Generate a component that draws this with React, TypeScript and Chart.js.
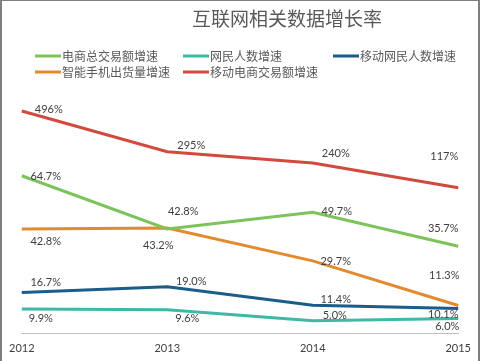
import React, { useEffect, useRef } from "react";
import { Chart, registerables } from "chart.js";

Chart.register(...registerables);

const TITLE = "互联网相关数据增长率";
const YEARS = ["2012", "2013", "2014", "2015"];
const SERIES_NAMES = ["电商总交易额增速", "网民人数增速", "移动网民人数增速", "智能手机出货量增速", "移动电商交易额增速"];
const ECOMMERCE = [64.7, 42.8, 49.7, 35.7];
const NETIZENS = [9.9, 9.6, 5.0, 6.0];
const MOBILE_NETIZENS = [16.7, 19.0, 11.4, 10.1];
const SMARTPHONE = [42.8, 43.2, 29.7, 11.3];
const MOBILE_ECOMMERCE = [496, 295, 240, 117];

const COLORS = ["#7dc35b", "#3fb8a6", "#1a5c8a", "#e48a2e", "#d24a3e"];
const DECIMALS = [1, 1, 1, 1, 0];

// label placement relative to each point (layout only)
const LABEL_OFFSETS: [number, number][][] = [
  [[24, 1], [16, -18], [24, -1], [-15, -18]],
  [[19, 10], [20, 9], [22, -5], [-11, 8]],
  [[24, -10], [24, -5], [23, -6], [-15, 6]],
  [[24, 12], [-9, 17], [23, 1], [-14, -30]],
  [[27, -2], [24, -6], [23, -9], [-14, -31]],
];

// legend grid slots (layout only)
const LEGEND_SLOTS: [number, number][] = [
  [35, 56], [183, 56], [333, 56], [35, 72], [183, 72],
];

const CJK = '"Noto Sans CJK SC", sans-serif';

const decorPlugin = {
  id: "decor",
  beforeDraw(chart: any) {
    const { ctx, width, height } = chart;
    ctx.save();
    ctx.fillStyle = "#ffffff";
    ctx.fillRect(0, 0, width, height);
    ctx.fillStyle = "#7f7f7f";
    ctx.fillRect(0, 0, 2, height);
    ctx.fillRect(0, 0, width, 1);
    ctx.fillRect(width - 2, 0, 2, height);
    ctx.restore();
  },
  afterDatasetsDraw(chart: any) {
    const { ctx } = chart;
    ctx.save();
    ctx.font = "11px Lato, sans-serif";
    ctx.fillStyle = "#404040";
    ctx.textAlign = "center";
    ctx.textBaseline = "middle";
    chart.data.datasets.forEach((ds: any, i: number) => {
      const meta = chart.getDatasetMeta(i);
      meta.data.forEach((pt: any, j: number) => {
        const v = ds.data[j] as number;
        const [dx, dy] = LABEL_OFFSETS[i][j];
        ctx.fillText(v.toFixed(DECIMALS[i]) + "%", pt.x + dx, pt.y + dy);
      });
    });
    ctx.restore();
  },
  afterDraw(chart: any) {
    const { ctx } = chart;
    ctx.save();
    ctx.fillStyle = "#595959";
    ctx.font = "19px " + CJK;
    ctx.textAlign = "center";
    ctx.textBaseline = "middle";
    ctx.fillText(TITLE, 287, 19);
    ctx.font = "12px " + CJK;
    ctx.textAlign = "left";
    chart.data.datasets.forEach((ds: any, i: number) => {
      const [x, y] = LEGEND_SLOTS[i];
      ctx.strokeStyle = ds.borderColor;
      ctx.lineWidth = 3;
      ctx.beginPath();
      ctx.moveTo(x, y);
      ctx.lineTo(x + 26, y);
      ctx.stroke();
      ctx.fillStyle = "#595959";
      ctx.fillText(ds.label, x + 27, y);
    });
    ctx.restore();
  },
};

export default function App() {
  const ref = useRef<HTMLCanvasElement | null>(null);
  useEffect(() => {
    document.body.style.margin = "0";
    const values = [ECOMMERCE, NETIZENS, MOBILE_NETIZENS, SMARTPHONE, MOBILE_ECOMMERCE];
    const chart = new Chart(ref.current as HTMLCanvasElement, {
      type: "line",
      data: {
        labels: YEARS,
        datasets: values.map((d, i) => ({
          label: SERIES_NAMES[i],
          data: d,
          borderColor: COLORS[i],
          backgroundColor: COLORS[i],
          borderWidth: 3,
          pointRadius: 0,
          tension: 0,
          fill: false,
          yAxisID: i === 4 ? "y1" : "y",
        })),
      },
      options: {
        animation: false,
        responsive: false,
        layout: { padding: { left: 19, right: 20, top: 90, bottom: 7 } },
        scales: {
          x: {
            offset: false,
            grid: { display: false, drawTicks: false, tickLength: 0 },
            border: { display: true, color: "#bfbfbf", width: 1 },
            ticks: {
              padding: 9,
              color: "#404040",
              font: { family: "Lato", size: 11 },
              maxRotation: 0,
              autoSkip: false,
            },
            afterFit(scale: any) {
              scale.height = 21;
            },
          },
          y: { display: false, min: 0, max: 100 },
          y1: { display: false, min: -600, max: 600 },
        },
        plugins: {
          legend: { display: false },
          title: { display: false },
          tooltip: { enabled: false },
        },
      },
      plugins: [decorPlugin],
    });
    return () => chart.destroy();
  }, []);
  return (
    <div style={{ width: 480, height: 361 }}>
      <canvas ref={ref} width={480} height={361} style={{ display: "block" }} />
    </div>
  );
}
